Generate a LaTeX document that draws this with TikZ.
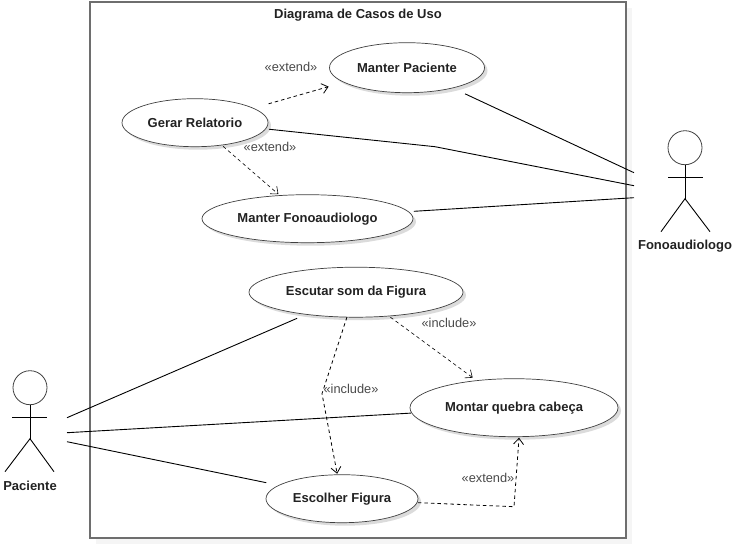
\documentclass[tikz,border=0pt]{standalone}
\usepackage{fontspec}
\setmainfont{Liberation Sans}
\usetikzlibrary{shapes.geometric,shadows,arrows.meta}

\definecolor{framegray}{HTML}{6E6E6E}
\definecolor{textgray}{HTML}{4A4A4A}
\definecolor{namedark}{HTML}{222222}

\tikzset{
    usecase/.style={ellipse, draw=black!75, fill=white, line width=0.7pt, inner sep=0pt, outer sep=0pt,
        font=\fontsize{13}{15}\selectfont\bfseries, text=namedark,
        drop shadow={shadow xshift=3pt, shadow yshift=-3pt, fill=black!14, opacity=1}},
    actorname/.style={font=\fontsize{13}{15}\selectfont\bfseries, text=namedark, inner sep=0pt},
    stereo/.style={font=\fontsize{12.8}{14}\selectfont, text=textgray, inner sep=0pt},
    assoc/.style={black, line width=0.9pt},
    dep/.style={black, line width=0.8pt, dashed, dash pattern=on 3.5pt off 3pt,
        -{Straight Barb[length=6pt, width=10pt]}},
    stick/.style={black, line width=0.9pt},
    head/.style={circle, draw=black!75, line width=0.8pt, fill=white, inner sep=0pt, outer sep=0pt, minimum size=34pt}
}

\begin{document}
\begin{tikzpicture}[x=1pt, y=-1pt]
    \useasboundingbox (0, -0.7) rectangle (736, 551.3);

    % system boundary
    \node [draw=framegray, line width=1.8pt, fill=white, inner sep=0pt, minimum width=536pt, minimum height=536pt,
        drop shadow={shadow xshift=6pt, shadow yshift=-6pt, fill=black!4, opacity=1}] (frame) at (358, 269.4) {};
    \node [actorname] (title) at (358, 14) {Diagrama de Casos de Uso};

    % use cases
    \node [usecase, minimum width=155pt, minimum height=50pt] (paciente) at (407, 67) {Manter Paciente};
    \node [usecase, minimum width=146pt, minimum height=48pt] (relatorio) at (195, 122) {Gerar Relatorio};
    \node [usecase, minimum width=211pt, minimum height=48pt] (fono) at (307.5, 218) {Manter Fonoaudiologo};
    \node [usecase, minimum width=214pt, minimum height=50pt] (escutar) at (356, 291.5) {Escutar som da Figura};
    \node [usecase, minimum width=208pt, minimum height=58pt] (montar) at (514, 407) {Montar quebra cabeça};
    \node [usecase, minimum width=152pt, minimum height=48pt] (escolher) at (342, 498) {Escolher Figura};

    % actors
    \node [head] (headF) at (685, 147) {};
    \coordinate (hipF) at (685, 198);
    \draw [stick] (headF) -- (hipF);
    \draw [stick] (668, 177) -- (703, 177);
    \draw [stick] (661, 231) -- (hipF) -- (710, 231);
    \node [actorname] (nameF) at (685, 245) {Fonoaudiologo};

    \node [head] (headP) at (30, 387) {};
    \coordinate (hipP) at (30, 438);
    \draw [stick] (headP) -- (hipP);
    \draw [stick] (12, 417) -- (47, 417);
    \draw [stick] (5, 471) -- (hipP) -- (54, 471);
    \node [actorname] (nameP) at (30, 485) {Paciente};

    % free ends beside the actors
    \coordinate (f1) at (634, 172);
    \coordinate (f2) at (634, 185);
    \coordinate (f3) at (634, 197);
    \coordinate (p1) at (67, 417);
    \coordinate (p2) at (67, 432);
    \coordinate (p3) at (67, 441);
    \coordinate (bendR) at (435, 146);
    \coordinate (bendI) at (322, 393);
    \coordinate (bendE) at (514, 506);

    % associations
    \draw [assoc, shorten <=14pt] (paciente.-24) -- (f1);
    \draw [assoc, shorten <=3.5pt] (relatorio.-5) -- (bendR) -- (f2);
    \draw [assoc, shorten <=5.5pt] (fono.4) -- (f3);
    \draw [assoc, shorten >=10pt] (p1) -- (escutar.204);
    \draw [assoc, shorten >=1pt] (p2) -- (montar.183);
    \draw [assoc, shorten >=13pt] (p3) -- (escolher.168);

    % dependencies
    \draw [dep, shorten <=16pt, shorten >=16pt] (relatorio.14) -- (paciente.193);
    \draw [dep, shorten <=2pt, shorten >=2pt, line width=0.6pt] (relatorio.-40) -- (fono.140);
    \draw [dep, shorten <=2pt, shorten >=5pt, line width=0.6pt] (escutar.-36) -- (montar.144);
    \draw [dep, shorten >=1pt] (escutar.250) -- (bendI) -- (escolher.101);
    \draw [dep, shorten <=1pt, shorten >=1pt] (escolher.-3) -- (bendE) -- (montar.-80);

    % stereotypes
    \node [stereo] (ex1) at (291, 66) {«extend»};
    \node [stereo] (ex2) at (270, 146) {«extend»};
    \node [stereo] (in1) at (449, 322) {«include»};
    \node [stereo] (in2) at (351, 388) {«include»};
    \node [stereo] (ex3) at (488, 477) {«extend»};
\end{tikzpicture}
\end{document}
